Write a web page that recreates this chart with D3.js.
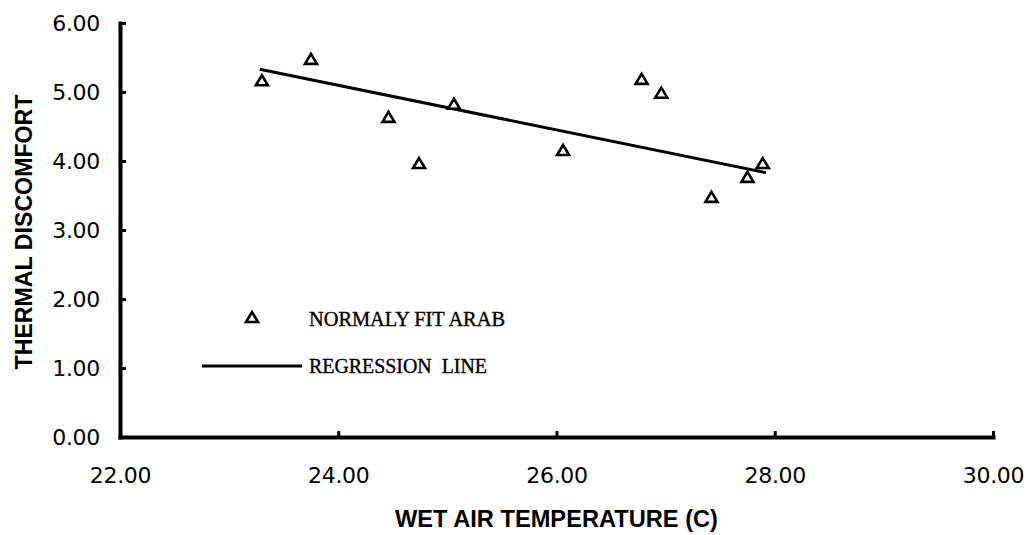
<!DOCTYPE html>
<html>
<head>
<meta charset="utf-8">
<script src="https://cdn.jsdelivr.net/npm/d3@7"></script>
<style>
  html, body { margin: 0; padding: 0; background: #fff; }
  svg { display: block; }
</style>
</head>
<body>
<svg id="chart" width="1029" height="535"></svg>
<script>
// ---- data ----
const wetAirTemp   = [23.30, 23.75, 24.46, 24.74, 25.06, 26.06, 26.78, 26.96, 27.42, 27.75, 27.89];
const discomfort   = [5.17, 5.48, 4.64, 3.97, 4.83, 4.16, 5.19, 4.99, 3.48, 3.77, 3.97];
const regressionX  = [23.28, 27.92];
const regressionY  = [5.33, 3.83];
const xTicks       = [22, 24, 26, 28, 30];
const yTicks       = [0, 1, 2, 3, 4, 5, 6];
const xTitle       = "WET AIR TEMPERATURE (C)";
const yTitle       = "THERMAL DISCOMFORT";
const legendLabels = ["NORMALY FIT ARAB", "REGRESSION LINE"];

const svg = d3.select("#chart");
const x = d3.scaleLinear().domain([22, 30]).range([120, 993]);
const y = d3.scaleLinear().domain([0, 6]).range([437, 23]);
const fmt = d3.format(".2f");

// axes
const yAxis = d3.axisLeft(y).tickValues(yTicks).tickFormat(fmt)
  .tickSizeInner(-6).tickSizeOuter(0).tickPadding(20);
const xAxis = d3.axisBottom(x).tickValues(xTicks).tickFormat(fmt)
  .tickSizeInner(-6).tickSizeOuter(0).tickPadding(30);

const gy = svg.append("g").attr("transform", `translate(${x(22)},0)`).call(yAxis);
const gx = svg.append("g").attr("transform", `translate(0,${y(0)})`).call(xAxis);

[gx, gy].forEach(g => {
  g.select(".domain").attr("stroke", "#000").attr("stroke-width", 4).attr("stroke-linecap", "square");
  g.selectAll(".tick line").attr("stroke", "#000").attr("stroke-width", 3);
  g.selectAll(".tick text")
    .attr("fill", "#000")
    .style("font-family", "'DejaVu Sans', sans-serif")
    .style("font-size", "22px")
    .style("letter-spacing", "-0.3px");
});
gx.selectAll(".tick line").filter(d => d === 22).remove();
gy.selectAll(".tick line").filter(d => d === 0).remove();

// axis titles
svg.append("text")
  .attr("x", (x(22) + x(30)) / 2).attr("y", 527)
  .attr("text-anchor", "middle")
  .attr("textLength", 323).attr("lengthAdjust", "spacingAndGlyphs")
  .style("font-family", "'Liberation Sans', Arial, sans-serif")
  .style("font-weight", "bold").style("font-size", "23px")
  .text(xTitle);

svg.append("text")
  .attr("transform", `translate(32,${(y(6)+y(0))/2 + 2}) rotate(-90)`)
  .attr("text-anchor", "middle")
  .attr("textLength", 275).attr("lengthAdjust", "spacingAndGlyphs")
  .style("font-family", "'Liberation Sans', Arial, sans-serif")
  .style("font-weight", "bold").style("font-size", "24px")
  .text(yTitle);

// triangle marker path
const tri = (w, h) => `M0,${-h/2}L${w/2},${h/2}L${-w/2},${h/2}Z`;

// regression line
svg.append("path")
  .datum(regressionX.map((v, i) => [v, regressionY[i]]))
  .attr("d", d3.line().x(d => x(d[0])).y(d => y(d[1])))
  .attr("fill", "none").attr("stroke", "#000").attr("stroke-width", 3);

// points
svg.append("g").selectAll("path")
  .data(wetAirTemp.map((v, i) => [v, discomfort[i]]))
  .join("path")
  .attr("transform", d => `translate(${x(d[0])},${y(d[1])})`)
  .attr("d", tri(12, 10))
  .attr("fill", "#fff").attr("stroke", "#000").attr("stroke-width", 2.6)
  .attr("stroke-linejoin", "miter");

// legend
const lg = svg.append("g");
lg.append("path")
  .attr("transform", "translate(252,317)")
  .attr("d", tri(12, 10))
  .attr("fill", "#fff").attr("stroke", "#000").attr("stroke-width", 2.6);
lg.append("line")
  .attr("x1", 202).attr("x2", 302).attr("y1", 366).attr("y2", 366)
  .attr("stroke", "#000").attr("stroke-width", 3);
const legWidths = [196, 178];
lg.selectAll("text.leg")
  .data(legendLabels)
  .join("text")
  .attr("class", "leg")
  .attr("x", 309)
  .attr("y", (d, i) => i === 0 ? 326 : 373)
  .attr("textLength", (d, i) => legWidths[i])
  .attr("lengthAdjust", "spacingAndGlyphs")
  .attr("stroke", "#000").attr("stroke-width", 0.35)
  .style("font-family", "'Liberation Serif', 'Times New Roman', serif")
  .style("font-size", "20px")
  .style("word-spacing", (d, i) => i === 1 ? "5px" : "0px")
  .text(d => d);
</script>
</body>
</html>
